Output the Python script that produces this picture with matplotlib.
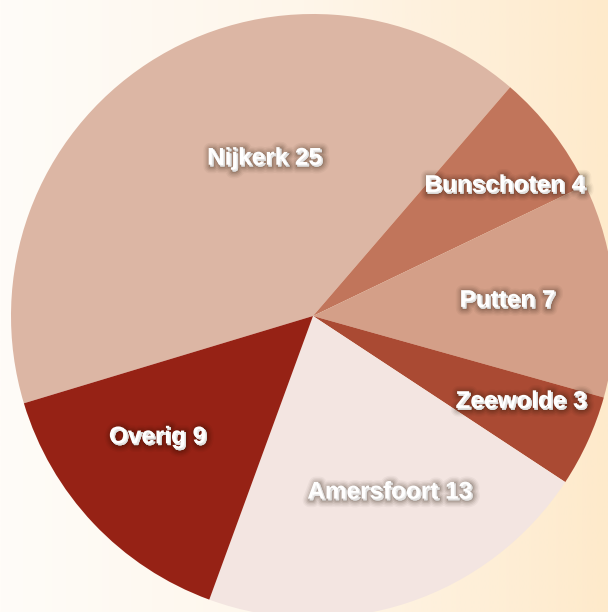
import numpy as np
import matplotlib
matplotlib.use("Agg")
import matplotlib.pyplot as plt
import matplotlib.patheffects as pe
from matplotlib.colors import LinearSegmentedColormap

# Data
categories = ["Nijkerk", "Bunschoten", "Putten", "Zeewolde", "Amersfoort", "Overig"]
values = [25, 4, 7, 3, 13, 9]
colors = ["#dcb6a4", "#c1755b", "#d49f88", "#aa4a33", "#f3e5e1", "#962215"]

# Layout / style
W, H, DPI = 608, 612, 100
cx, cy = 313, 316          # pie centre in pixels from top-left
radius = 302
start_angle = 196.8
label_radius = [165, 232, 195, 225, 192, 197]
label_angle_shift = [-16.0, -3.2, -0.4, 2.2, 5.2, -5.5]

fig = plt.figure(figsize=(W / DPI, H / DPI), dpi=DPI)

# Background gradient
bg = fig.add_axes([0, 0, 1, 1], zorder=0)
grad = np.linspace(0, 1, 256).reshape(1, -1)
cmap = LinearSegmentedColormap.from_list("bg", ["#fffcf8", "#fef6ea", "#feeacb"])
bg.imshow(grad, aspect="auto", cmap=cmap, extent=[0, 1, 0, 1])
bg.set_axis_off()

ax = fig.add_axes([0, 0, 1, 1], zorder=1)
ax.patch.set_alpha(0)

wedges, _ = ax.pie(values, colors=colors, radius=radius, startangle=start_angle,
                   counterclock=False, center=(0, 0), frame=True,
                   wedgeprops=dict(linewidth=0))
ax.set_xlim(-cx, W - cx)
ax.set_ylim(-(H - cy), cy)
ax.set_aspect("equal")
ax.set_axis_off()

shadow = [pe.Stroke(linewidth=lw, foreground=(0.1, 0.05, 0.0, a), offset=(1.2, -1.2))
          for lw, a in [(10, 0.04), (8, 0.05), (6, 0.07), (4, 0.09), (2, 0.12)]]
shadow.append(pe.Normal())

for w, name, v, r, sh in zip(wedges, categories, values, label_radius, label_angle_shift):
    mid = np.deg2rad((w.theta1 + w.theta2) / 2 + sh)
    ax.text(r * np.cos(mid), r * np.sin(mid), f"{name} {v}",
            ha="center", va="center", color="white", fontsize=17.5,
            fontweight="bold", family=["Liberation Sans", "DejaVu Sans"],
            path_effects=shadow)

fig.savefig("out.png", dpi=DPI)
